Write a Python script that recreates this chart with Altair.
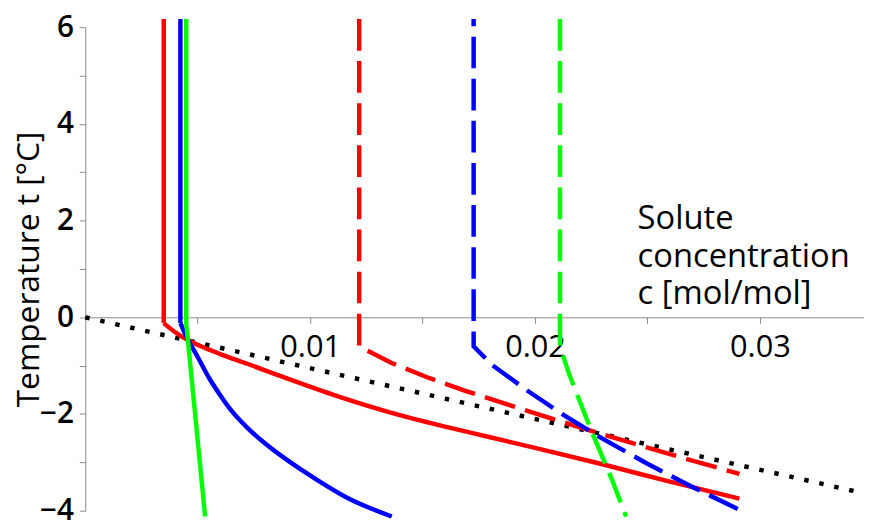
import altair as alt
import pandas as pd

# ---- data ----
# vertical (liquid) parts: concentration, top temperature, kink temperature
red_solid_c = [0.00349, 0.00349, 0.0040, 0.0046, 0.0052, 0.0060, 0.0072, 0.0090, 0.0112, 0.0135, 0.0160, 0.0180, 0.0200, 0.0230, 0.0260, 0.02909]
red_solid_t = [6.17, -0.12, -0.31, -0.48, -0.61, -0.76, -0.96, -1.27, -1.63, -1.96, -2.26, -2.48, -2.70, -3.04, -3.40, -3.75]

blue_solid_c = [0.00423, 0.00423, 0.0044, 0.0046, 0.0050, 0.0055, 0.0060, 0.0065, 0.0072, 0.0080, 0.0090, 0.0102, 0.0116, 0.01363]
blue_solid_t = [6.17, -0.12, -0.30, -0.49, -0.82, -1.25, -1.61, -1.93, -2.28, -2.61, -2.96, -3.33, -3.72, -4.12]

green_solid_c = [0.00449, 0.00449, 0.00533]
green_solid_t = [6.17, -0.12, -4.12]

red_dash_c = [0.01218, 0.01218, 0.0136, 0.0152, 0.0169, 0.0187, 0.0205, 0.0230, 0.0260, 0.02909]
red_dash_t = [6.17, -0.60, -0.94, -1.24, -1.52, -1.79, -2.06, -2.42, -2.83, -3.24]

blue_dash_c = [0.01727, 0.01727, 0.0181, 0.0197, 0.0213, 0.0230, 0.0250, 0.0270, 0.02909]
blue_dash_t = [6.17, -0.60, -0.99, -1.53, -2.03, -2.51, -3.03, -3.51, -3.98]

green_dash_c = [0.02111, 0.02111, 0.02153, 0.0225, 0.0234, 0.02405]
green_dash_t = [6.17, -0.60, -1.19, -2.34, -3.33, -4.12]

dotted_c = [0.0, 0.03463]
dotted_t = [0.0, -3.64]

x_ticks = [0.005, 0.01, 0.015, 0.02, 0.025, 0.03]
y_ticks = [-4, -3, -2, -1, 0, 1, 2, 3, 4, 5, 6]

x_title = ["Solute", "concentration", "c [mol/mol]"]
y_title = "Temperature t [°C]"


def frame(cs, ts):
    return pd.DataFrame({"c": cs, "t": ts, "order": list(range(len(cs)))})


FONT = "Open Sans"
AXIS_GREY = "#8a8a8a"

x_enc = alt.X(
    "c:Q",
    scale=alt.Scale(domain=[0, 0.03463], nice=False, zero=False),
    axis=alt.Axis(
        values=x_ticks,
        format=".2f",
        labelExpr="abs(round(datum.value*200)) % 2 == 0 ? datum.label : ''",
        offset=-195.2,
        grid=False,
        tickSize=6,
        tickColor=AXIS_GREY,
        domainColor=AXIS_GREY,
        labelFont=FONT,
        labelFontSize=31,
        labelColor="black",
        labelPadding=10,
        title=x_title,
        titleFont=FONT,
        titleFontSize=33,
        titleFontWeight="normal",
        titleColor="black",
        titleAlign="left",
        titleBaseline="alphabetic",
        titleLineHeight=38,
        titleX=557,
        titleY=-89.5,
    ),
)

y_enc = alt.Y(
    "t:Q",
    scale=alt.Scale(domain=[-4, 6], nice=False, zero=False),
    axis=alt.Axis(
        values=y_ticks,
        labelExpr="datum.value % 2 == 0 ? datum.label : ''",
        grid=False,
        tickSize=6,
        tickColor=AXIS_GREY,
        domainColor=AXIS_GREY,
        labelFont=FONT,
        labelFontSize=30,
        labelFontWeight=600,
        labelColor="black",
        labelPadding=6,
        title=y_title,
        titleFont=FONT,
        titleFontSize=32,
        titleFontWeight="normal",
        titleColor="black",
        titleAngle=270,
        titleBaseline="bottom",
        titleX=-40,
        titleY=244,
    ),
)


def line(df, color, dash=None, offset=None, width=4.5, interp="linear"):
    kw = dict(color=color, strokeWidth=width, strokeCap="butt", clip=False,
              interpolate=interp)
    if dash is not None:
        kw["strokeDash"] = dash
    if offset is not None:
        kw["strokeDashOffset"] = offset
    return alt.Chart(df).mark_line(**kw).encode(
        x=x_enc, y=y_enc, order="order:Q"
    )


def solid_curve(cs, ts, color):
    # vertical part (first two points) drawn straight, the curved part smoothly
    vert = line(frame(cs[:2], ts[:2]), color)
    curve = line(frame(cs[1:], ts[1:]), color, interp="monotone")
    return [vert, curve]


layers = (
    [line(frame(dotted_c, dotted_t), "black", dash=[4.5, 11], width=4.5)]
    + solid_curve(red_solid_c, red_solid_t, "#ff0000")
    + solid_curve(blue_solid_c, blue_solid_t, "#0000ff")
    + [line(frame(green_solid_c, green_solid_t), "#00ff00")]
    + [
        line(frame(red_dash_c, red_dash_t), "#ff0000", dash=[32, 10.5]),
        line(frame(blue_dash_c, blue_dash_t), "#0000ff", dash=[32, 10.5], offset=24.7),
        line(frame(green_dash_c, green_dash_t), "#00ff00", dash=[32, 10.5]),
    ]
)

chart = (
    alt.layer(*layers)
    .properties(
        width=786,
        height=488,
        autosize=alt.AutoSizeParams(type="none"),
        padding={"left": 78, "top": 17, "right": 0, "bottom": 9},
        background="white",
    )
    .configure_view(stroke=None)
)

chart.save("out.html", embed_options={"renderer": "svg", "actions": False})
